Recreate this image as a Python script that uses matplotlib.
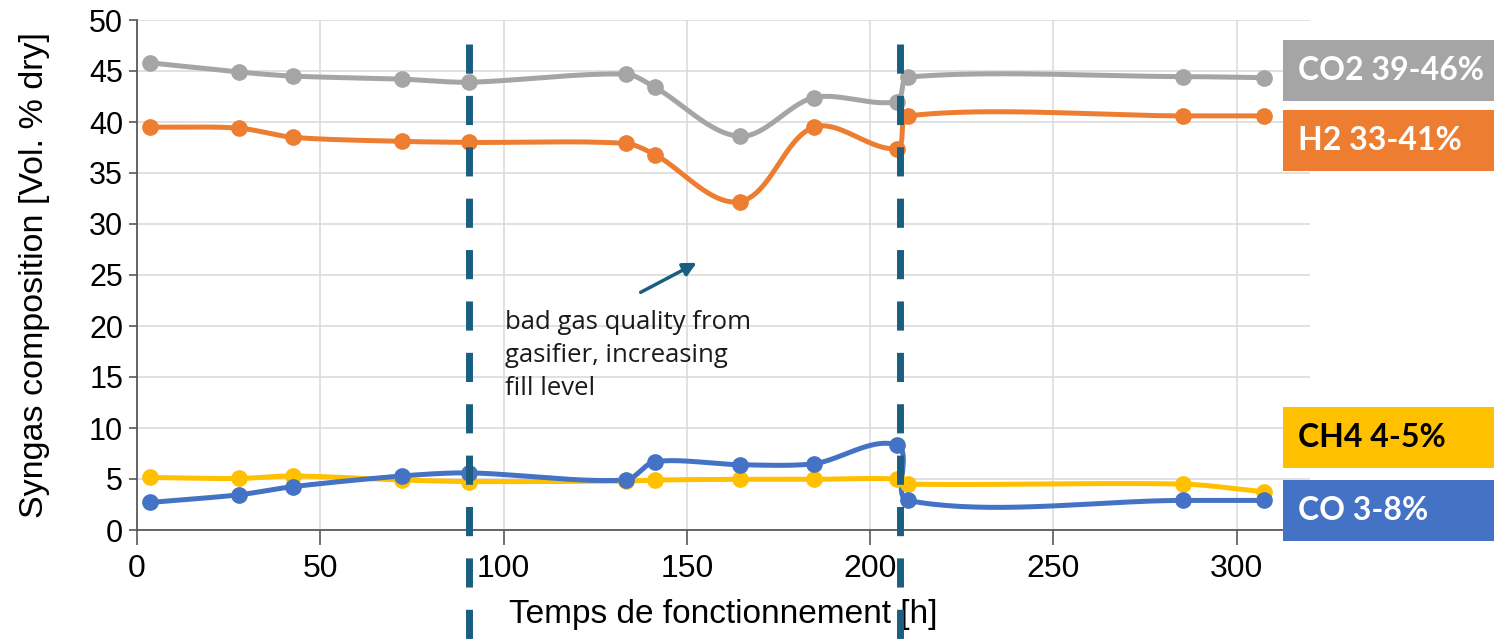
import numpy as np
import matplotlib
matplotlib.use("Agg")
import matplotlib.pyplot as plt
from matplotlib.patches import Rectangle

# ---- data ----
t_co2 = [3.5, 27.8, 42.5, 72.4, 90.6, 133.3, 141.3, 164.4, 184.7, 207.2, 210.3, 285.3, 307.4]
co2 = [45.8, 44.9, 44.5, 44.2, 43.9, 44.7, 43.4, 38.6, 42.4, 42.0, 44.4, 44.45, 44.35]

t_h2 = [3.5, 27.8, 42.5, 72.4, 90.6, 133.3, 141.3, 164.4, 184.7, 207.2, 210.3, 285.3, 307.4]
h2 = [39.5, 39.4, 38.5, 38.1, 38.0, 37.9, 36.8, 32.2, 39.5, 37.4, 40.6, 40.6, 40.6]

t_ch4 = [3.5, 27.8, 42.5, 72.4, 90.6, 133.3, 141.3, 164.4, 184.7, 207.2, 210.3, 285.3, 307.4]
ch4 = [5.15, 5.05, 5.3, 4.9, 4.75, 4.8, 4.9, 4.97, 4.97, 5.0, 4.5, 4.5, 3.75]

t_co = [3.5, 27.8, 42.5, 72.4, 90.6, 133.3, 141.3, 164.4, 184.7, 207.4, 210.3, 285.3, 307.4]
co = [2.7, 3.45, 4.25, 5.3, 5.6, 4.9, 6.7, 6.4, 6.5, 8.3, 2.9, 2.9, 2.9]

event_times = [90.5, 208.1]
x_ticks = [0, 50, 100, 150, 200, 250, 300]
y_ticks = [0, 5, 10, 15, 20, 25, 30, 35, 40, 45, 50]

series = [
    ("CO2 39-46%", t_co2, co2, "#A5A5A5", "white"),
    ("H2 33-41%", t_h2, h2, "#ED7D31", "white"),
    ("CH4 4-5%", t_ch4, ch4, "#FFC000", "black"),
    ("CO 3-8%", t_co, co, "#4472C4", "white"),
]

XMAX, YMAX = 320, 50
W, H = 1494, 639
AX_L, AX_R, AX_B, AX_T = 137, 1310, 530, 20
sx = (AX_R - AX_L) / XMAX
sy = (AX_B - AX_T) / YMAX


def smooth(x, y, k=0.3, n=40):
    """Excel-like smoothed line: cubic Bezier through the points, tangents
    scaled by segment length (computed in pixel space)."""
    P = np.column_stack([np.asarray(x) * sx, np.asarray(y) * sy])
    m = len(P)
    tang = np.zeros_like(P)
    for i in range(m):
        a = P[max(i - 1, 0)]
        b = P[min(i + 1, m - 1)]
        d = b - a
        tang[i] = d / (np.linalg.norm(d) + 1e-12)
    out = []
    tt = np.linspace(0, 1, n)
    for i in range(m - 1):
        p0, p3 = P[i], P[i + 1]
        L = np.linalg.norm(p3 - p0)
        p1 = p0 + tang[i] * L * k
        p2 = p3 - tang[i + 1] * L * k
        seg = ((1 - tt) ** 3)[:, None] * p0 + (3 * (1 - tt) ** 2 * tt)[:, None] * p1 \
            + (3 * (1 - tt) * tt ** 2)[:, None] * p2 + (tt ** 3)[:, None] * p3
        out.append(seg if i == 0 else seg[1:])
    out = np.vstack(out)
    return out[:, 0] / sx, out[:, 1] / sy


fig = plt.figure(figsize=(W / 100, H / 100), dpi=100)
ax = fig.add_axes([AX_L / W, (H - AX_B) / H, (AX_R - AX_L) / W, (AX_B - AX_T) / H])
ax.set_xlim(0, XMAX)
ax.set_ylim(0, YMAX)

ax.set_xticks(x_ticks)
ax.set_yticks(y_ticks)
ax.grid(True, color="#D9D9D9", linewidth=1.1, zorder=0)
ax.set_axisbelow(True)
for s in ["top", "right"]:
    ax.spines[s].set_visible(False)
for s in ["left", "bottom"]:
    ax.spines[s].set_color("#595959")
    ax.spines[s].set_linewidth(1.3)
ax.tick_params(axis="y", direction="out", length=6, width=1.2, color="#595959",
               labelsize=22, pad=4)
ax.tick_params(axis="x", direction="out", length=11, width=1.2, color="#595959",
               labelsize=23, pad=6)
for lab in ax.get_xticklabels() + ax.get_yticklabels():
    lab.set_fontfamily("Liberation Sans")

ax.set_ylabel("Syngas composition [Vol. % dry]", fontsize=24.5, family="Liberation Sans",
              labelpad=28)
ax.set_xlabel("Temps de fonctionnement [h]", fontsize=24, family="Liberation Sans",
              labelpad=11)

for name, tx, ty, col, tcol in series:
    xs, ys = smooth(tx, ty)
    ax.plot(xs, ys, color=col, linewidth=3.6, solid_capstyle="round", zorder=3)
    ax.plot(tx, ty, linestyle="none", marker="o", markersize=11, color=col, zorder=4)

for et in event_times:
    ax.plot([et, et], [47.6, -11.0], color="#1A5E80", linewidth=5,
            dashes=(4.2, 3.2), solid_capstyle="butt", dash_capstyle="butt",
            clip_on=False, zorder=6)

ax.annotate("", xy=(152.7, 26.2), xytext=(137.4, 23.3),
            arrowprops=dict(arrowstyle="-|>,head_length=0.8,head_width=0.4",
                            color="#1A5E80", lw=2.5, shrinkA=0, shrinkB=0), zorder=6)
ax.text(100.4, 21.6, "bad gas quality from\ngasifier, increasing\nfill level",
        fontsize=18.5, family="Open Sans", color="#1A1A1A", va="top", ha="left",
        linespacing=1.42, zorder=6)

# right-side labels
box_rows = [(40, 101), (110, 171), (407, 468), (480, 541)]
for (name, tx, ty, col, tcol), (top, bot) in zip(series, box_rows):
    fig.add_artist(Rectangle((1283 / W, (H - bot) / H), 1 - 1283 / W, (bot - top) / H,
                             transform=fig.transFigure, facecolor=col, edgecolor="none",
                             zorder=10))
    fig.text(1298 / W, (H - (top + bot) / 2) / H, name, fontsize=23, family="Lato",
             fontweight="bold", color=tcol, va="center", ha="left", zorder=11)

fig.savefig("out.png", dpi=100)
